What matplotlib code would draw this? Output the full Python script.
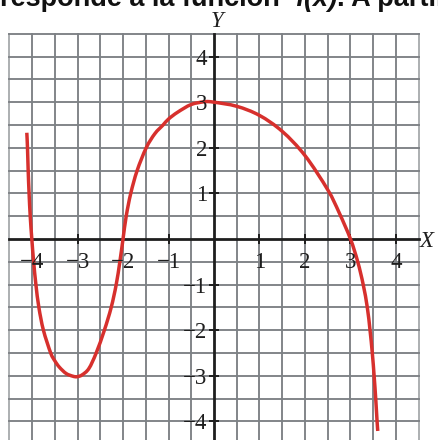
import matplotlib
matplotlib.use("Agg")
import matplotlib.pyplot as plt
from matplotlib.path import Path
from matplotlib.patches import PathPatch
import numpy as np

# Points along the graph of f(x)
curve_x = [-4.115, -4.10, -4.085, -4.065, -4.04, -4.005, -3.965, -3.915, -3.85, -3.75,
           -3.59, -3.50, -3.40, -3.25, -3.10, -3.01, -2.90, -2.75, -2.59, -2.41,
           -2.26, -2.15, -2.07, -2.00, -1.93, -1.83, -1.69, -1.49, -1.30, -1.12,
           -1.00, -0.80, -0.50, -0.20, 0.00, 0.50, 1.00, 1.50, 2.00, 2.50,
           2.75, 3.00, 3.16, 3.28, 3.37, 3.43, 3.48, 3.52, 3.555, 3.585, 3.60]
curve_y = [2.33, 2.00, 1.50, 1.00, 0.50, 0.00, -0.50, -1.00, -1.50, -2.00,
           -2.50, -2.67, -2.81, -2.95, -3.01, -3.02, -2.98, -2.84, -2.50, -2.00,
           -1.50, -1.00, -0.50, 0.00, 0.50, 1.00, 1.50, 2.00, 2.31, 2.50,
           2.63, 2.78, 2.95, 3.01, 3.00, 2.91, 2.71, 2.36, 1.83, 1.08,
           0.58, 0.00, -0.50, -1.00, -1.50, -2.00, -2.50, -3.00, -3.50, -4.00, -4.21]

x_ticks = [-4, -3, -2, -1, 1, 2, 3, 4]
y_ticks = [-4, -3, -2, -1, 1, 2, 3, 4]
x_tick_labels = ["\u22124", "\u22123", "\u22122", "\u22121", "1", "2", "3", "4"]
y_tick_labels = ["\u22124", "\u22123", "\u22122", "\u22121", "1", "2", "3", "4"]

title_parts = [("responde a la función  ", "normal"), ("f(x)", "italic"), (". A partir", "normal")]


def smooth_path(xs, ys):
    """Cubic Bezier path passing through every given point (Catmull-Rom tangents)."""
    P = np.column_stack([xs, ys]).astype(float)
    n = len(P)
    verts = [P[0]]
    codes = [Path.MOVETO]
    for i in range(n - 1):
        p0 = P[i - 1] if i > 0 else P[i]
        p1, p2 = P[i], P[i + 1]
        p3 = P[i + 2] if i + 2 < n else P[i + 1]
        c1 = p1 + (p2 - p0) / 6.0
        c2 = p2 - (p3 - p1) / 6.0
        verts += [c1, c2, p2]
        codes += [Path.CURVE4] * 3
    return Path(np.array(verts), codes)


W, H = 438, 440
fig = plt.figure(figsize=(W / 100, H / 100), dpi=100)
fig.patch.set_facecolor("white")
ax = fig.add_axes([9.3 / W, 0, 409.4 / W, 406.2 / H])
ax.set_xlim(-4.5, 4.5)
ax.set_ylim(-4.408, 4.5)
ax.set_axis_off()

grid_color = "#7d8185"
edge_color = "#a9acaf"

# half-unit grid
for gx in np.arange(-4.5, 4.51, 0.5):
    if abs(gx) < 1e-9:
        continue
    c = edge_color if abs(abs(gx) - 4.5) < 1e-9 else grid_color
    ax.axvline(gx, color=c, lw=1.35, zorder=1, clip_on=False)
for gy in np.arange(-4.0, 4.51, 0.5):
    if abs(gy) < 1e-9:
        continue
    ax.axhline(gy, color=grid_color, lw=1.35, zorder=1, clip_on=False)

# coordinate axes
axis_color = "#1e1e1e"
ax.axhline(0, color=axis_color, lw=2.0, zorder=2, clip_on=False)
ax.axvline(0, color=axis_color, lw=2.0, zorder=2, clip_on=False)
ax.plot(x_ticks, [0] * len(x_ticks), ls="none", marker="|", ms=6.5, mew=1.4,
        color=axis_color, zorder=2)
ax.plot([0] * len(y_ticks), y_ticks, ls="none", marker="_", ms=6.5, mew=1.4,
        color=axis_color, zorder=2)

# graph of f
ax.add_patch(PathPatch(smooth_path(curve_x, curve_y), fill=False,
                       edgecolor="#d7302d", lw=2.5, zorder=4,
                       joinstyle="round", capstyle="butt"))

serif = "Liberation Serif"
for v, lab in zip(x_ticks, x_tick_labels):
    ax.text(v, -0.636, lab, ha="center", va="baseline", fontsize=16.5,
            family=serif, color="#1e1e1e", zorder=5)
for v, lab in zip(y_ticks, y_tick_labels):
    ax.text(-0.155, v - 0.175, lab, ha="right", va="baseline", fontsize=16.5,
            family=serif, color="#1e1e1e", zorder=5)

# axis names
fig.text(217.5 / W, 1 - 27 / H, "Y", ha="center", va="baseline", fontsize=16.5,
         family=serif, style="italic", color="#1e1e1e")
fig.text(420 / W, 1 - 247 / H, "X", ha="left", va="baseline", fontsize=16.5,
         family=serif, style="italic", color="#1e1e1e")

# heading line, partly outside the figure
renderer = fig.canvas.get_renderer()
x_px = 0.0
for txt, sty in title_parts:
    t = fig.text(x_px / W, 1 - 6.5 / H, txt, ha="left", va="baseline",
                 fontsize=19.5, family="Liberation Sans", weight="bold",
                 style=sty, color="#111111")
    bb = t.get_window_extent(renderer)
    x_px = bb.x1

fig.savefig("out.png", dpi=100, facecolor="white")
